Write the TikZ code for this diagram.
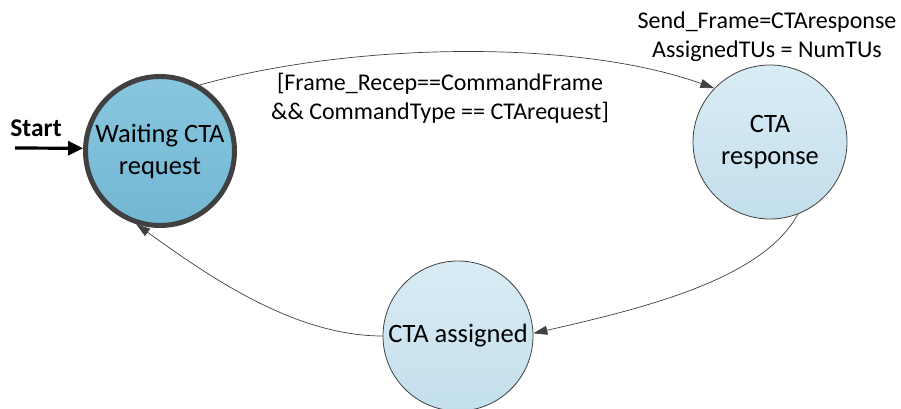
\documentclass[tikz,border=0pt]{standalone}
\usepackage{fontspec}
\setmainfont{Carlito}
\usetikzlibrary{arrows.meta}
\definecolor{edgegray}{HTML}{404040}
\definecolor{initTop}{HTML}{88C6DE}
\definecolor{initBot}{HTML}{72B7D3}
\definecolor{stTop}{HTML}{D9ECF5}
\definecolor{stBot}{HTML}{C3DFEC}
\tikzset{
  statefont/.style={font=\fontsize{26.5}{32}\selectfont},
  labelfont/.style={font=\fontsize{24}{29}\selectfont},
  initstate/.style={circle, draw=edgegray, line width=5pt, top color=initTop, bottom color=initBot,
    minimum size=149pt, inner sep=0pt, align=center, statefont},
  plainstate/.style={circle, draw=edgegray, line width=0.8pt, top color=stTop, bottom color=stBot,
    minimum size=154pt, inner sep=0pt, align=center, statefont},
  trans/.style={draw=edgegray, line width=0.7pt, -{Triangle[length=14pt,width=9pt]}},
  startarrow/.style={draw=black, line width=3.2pt, -{Triangle[length=15pt,width=14pt]}},
}
\begin{document}
\begin{tikzpicture}[x=1pt,y=1pt]
  \useasboundingbox (0,0) rectangle (901,409);

  % states
  \node[initstate] (w) at (160,258) {Waiting CTA\\request};
  \node[plainstate] (r) at (770,267) {CTA\\response};
  \node[plainstate, minimum size=150pt] (a) at (458,73) {CTA assigned};

  % initial transition
  \coordinate (s) at (15,261);
  \node[anchor=base, font=\fontsize{25.5}{30}\selectfont\bfseries] (startlbl) at (36,272) {Start};
  \draw[startarrow] (s) -- (w.178);

  % transitions
  \draw[trans] (w.59) .. controls +(150,42) and +(-140,50) .. (r.136);
  \draw[trans] (r.-69) .. controls +(-35,-65) and +(110,25) .. (a.2);
  \draw[trans] (a.west) .. controls +(-90,0) and +(70,-50) .. (w.-108);

  % labels
  \node[labelfont, align=center, inner sep=0pt] (guard) at (440,311)
    {[Frame\_Recep==CommandFrame\\\&\& CommandType == CTArequest]};
  \node[labelfont, align=center, inner sep=0pt] (action) at (767,372)
    {Send\_Frame=CTAresponse\\AssignedTUs = NumTUs};
\end{tikzpicture}
\end{document}
